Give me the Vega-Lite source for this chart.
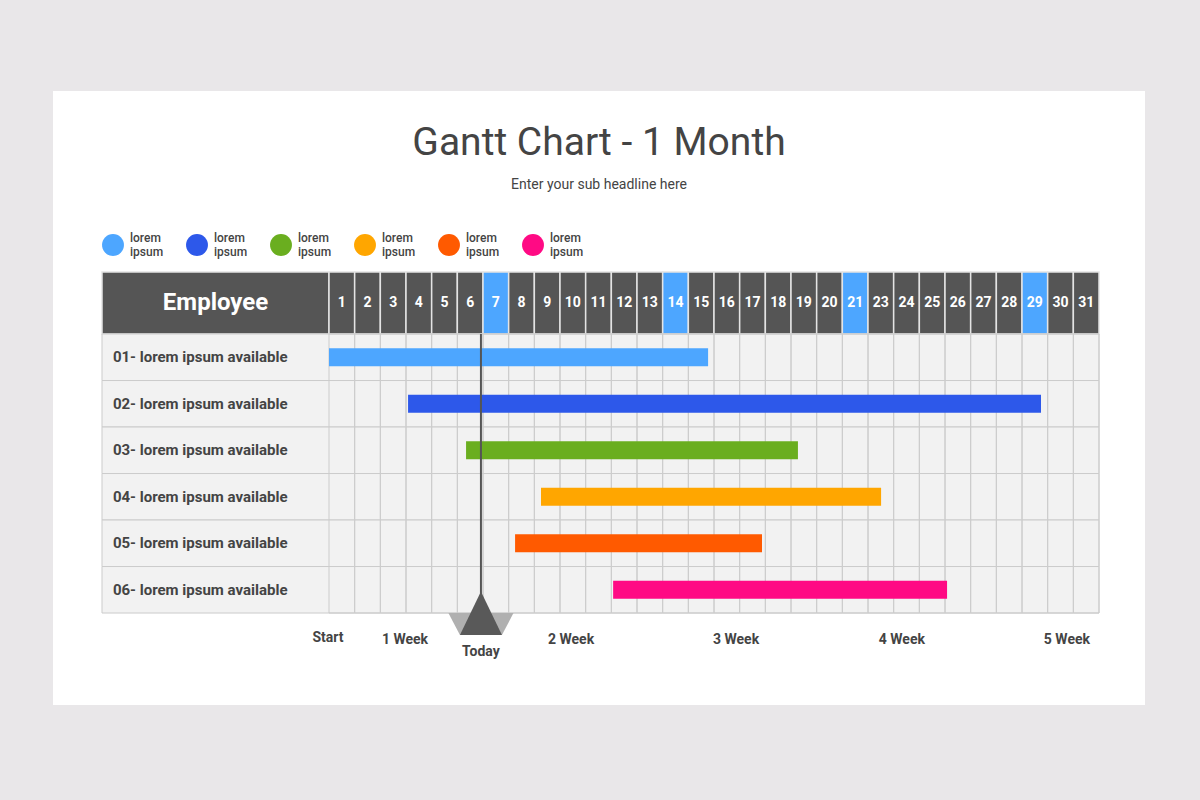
{
  "$schema": "https://vega.github.io/schema/vega-lite/v6.json",
  "width": 1092,
  "height": 614,
  "autosize": {"type": "none"},
  "padding": {"left": 53, "top": 91, "right": 55, "bottom": 95},
  "background": "#e9e7e9",
  "config": {
    "view": {"stroke": null, "fill": "#ffffff"},
    "font": "Roboto",
    "text": {"font": "Roboto"},
    "scale": {"continuousPadding": 0}
  },
  "title": {
    "text": "Gantt Chart - 1 Month",
    "subtitle": "Enter your sub headline here",
    "fontSize": 39,
    "fontWeight": "normal",
    "color": "#444444",
    "subtitleFontSize": 14,
    "subtitleColor": "#444444",
    "subtitlePadding": 15,
    "anchor": "middle",
    "frame": "group",
    "offset": -101
  },
  "datasets": {
    "days": [
      {"slot": 1, "label": "1", "hl": false},
      {"slot": 2, "label": "2", "hl": false},
      {"slot": 3, "label": "3", "hl": false},
      {"slot": 4, "label": "4", "hl": false},
      {"slot": 5, "label": "5", "hl": false},
      {"slot": 6, "label": "6", "hl": false},
      {"slot": 7, "label": "7", "hl": true},
      {"slot": 8, "label": "8", "hl": false},
      {"slot": 9, "label": "9", "hl": false},
      {"slot": 10, "label": "10", "hl": false},
      {"slot": 11, "label": "11", "hl": false},
      {"slot": 12, "label": "12", "hl": false},
      {"slot": 13, "label": "13", "hl": false},
      {"slot": 14, "label": "14", "hl": true},
      {"slot": 15, "label": "15", "hl": false},
      {"slot": 16, "label": "16", "hl": false},
      {"slot": 17, "label": "17", "hl": false},
      {"slot": 18, "label": "18", "hl": false},
      {"slot": 19, "label": "19", "hl": false},
      {"slot": 20, "label": "20", "hl": false},
      {"slot": 21, "label": "21", "hl": true},
      {"slot": 22, "label": "23", "hl": false},
      {"slot": 23, "label": "24", "hl": false},
      {"slot": 24, "label": "25", "hl": false},
      {"slot": 25, "label": "26", "hl": false},
      {"slot": 26, "label": "27", "hl": false},
      {"slot": 27, "label": "28", "hl": false},
      {"slot": 28, "label": "29", "hl": true},
      {"slot": 29, "label": "30", "hl": false},
      {"slot": 30, "label": "31", "hl": false}
    ],
    "tasks": [
      {"row": 1, "task": "01- lorem ipsum available", "start": 0.5, "end": 15.27},
      {"row": 2, "task": "02- lorem ipsum available", "start": 3.58, "end": 28.24},
      {"row": 3, "task": "03- lorem ipsum available", "start": 5.84, "end": 18.77},
      {"row": 4, "task": "04- lorem ipsum available", "start": 8.76, "end": 22.01},
      {"row": 5, "task": "05- lorem ipsum available", "start": 7.75, "end": 17.37},
      {"row": 6, "task": "06- lorem ipsum available", "start": 11.57, "end": 24.58}
    ],
    "weeks": [
      {"label": "Start", "pos": 0.46, "lift": 7.035},
      {"label": "1 Week", "pos": 3.46, "lift": 7.075},
      {"label": "2 Week", "pos": 9.93, "lift": 7.075},
      {"label": "3 Week", "pos": 16.36, "lift": 7.075},
      {"label": "4 Week", "pos": 22.82, "lift": 7.075},
      {"label": "5 Week", "pos": 29.25, "lift": 7.075}
    ],
    "today": [{"label": "Today", "pos": 6.42}],
    "header": [{"label": "Employee"}]
  },
  "layer": [
    {
      "data": {"name": "header"},
      "mark": {"type": "rect", "fill": "#555555", "stroke": "#e4e4e4", "strokeWidth": 1.5},
      "encoding": {
        "x": {"datum": -8.344, "type": "quantitative", "scale": {"domain": [-10.253, 32.292], "nice": false, "zero": false, "padding": 0}, "axis": null},
        "x2": {"datum": 0.5},
        "y": {"datum": -0.833, "type": "quantitative", "scale": {"domain": [-4.726, 8.478], "nice": false, "zero": false, "reverse": true, "padding": 0}, "axis": null},
        "y2": {"datum": 0.5}
      }
    },
    {
      "data": {"name": "header"},
      "mark": {"type": "text", "color": "#ffffff", "fontSize": 24, "fontWeight": "bold", "align": "center", "baseline": "middle"},
      "encoding": {
        "x": {"datum": -3.92, "type": "quantitative", "scale": {"domain": [-10.253, 32.292], "nice": false, "zero": false, "padding": 0}, "axis": null},
        "y": {"datum": -0.1667, "type": "quantitative", "scale": {"domain": [-4.726, 8.478], "nice": false, "zero": false, "reverse": true, "padding": 0}, "axis": null},
        "text": {"field": "label"}
      }
    },
    {
      "data": {"name": "days"},
      "mark": {"type": "bar", "orient": "vertical", "size": 25.667, "stroke": "#e4e4e4", "strokeWidth": 1.5},
      "encoding": {
        "x": {"field": "slot", "type": "quantitative", "scale": {"domain": [-10.253, 32.292], "nice": false, "zero": false, "padding": 0}, "axis": null},
        "y": {"datum": -0.833, "type": "quantitative", "scale": {"domain": [-4.726, 8.478], "nice": false, "zero": false, "reverse": true, "padding": 0}, "axis": null},
        "y2": {"datum": 0.5},
        "fill": {"condition": {"test": "datum.hl", "value": "#4da6ff"}, "value": "#555555"}
      }
    },
    {
      "data": {"name": "days"},
      "mark": {"type": "text", "color": "#ffffff", "fontSize": 14, "fontWeight": "bold", "align": "center", "baseline": "middle"},
      "encoding": {
        "x": {"field": "slot", "type": "quantitative", "scale": {"domain": [-10.253, 32.292], "nice": false, "zero": false, "padding": 0}, "axis": null},
        "y": {"datum": -0.1667, "type": "quantitative", "scale": {"domain": [-4.726, 8.478], "nice": false, "zero": false, "reverse": true, "padding": 0}, "axis": null},
        "text": {"field": "label"}
      }
    },
    {
      "data": {"name": "tasks"},
      "mark": {"type": "bar", "orient": "horizontal", "size": 46.5, "fill": "#f2f2f2", "stroke": "#cccccc", "strokeWidth": 1},
      "encoding": {
        "x": {"datum": -8.344, "type": "quantitative", "scale": {"domain": [-10.253, 32.292], "nice": false, "zero": false, "padding": 0}, "axis": null},
        "x2": {"datum": 30.5},
        "y": {"field": "row", "type": "quantitative", "scale": {"domain": [-4.726, 8.478], "nice": false, "zero": false, "reverse": true, "padding": 0}, "axis": null}
      }
    },
    {
      "data": {"name": "days"},
      "mark": {"type": "bar", "orient": "vertical", "size": 25.667, "fill": "transparent", "stroke": "#cccccc", "strokeWidth": 1},
      "encoding": {
        "x": {"field": "slot", "type": "quantitative", "scale": {"domain": [-10.253, 32.292], "nice": false, "zero": false, "padding": 0}, "axis": null},
        "y": {"datum": 0.5, "type": "quantitative", "scale": {"domain": [-4.726, 8.478], "nice": false, "zero": false, "reverse": true, "padding": 0}, "axis": null},
        "y2": {"datum": 6.5}
      }
    },
    {
      "data": {"name": "tasks"},
      "mark": {"type": "bar", "orient": "horizontal", "size": 18},
      "encoding": {
        "x": {"field": "start", "type": "quantitative", "scale": {"domain": [-10.253, 32.292], "nice": false, "zero": false, "padding": 0}, "axis": null},
        "x2": {"field": "end"},
        "y": {"field": "row", "type": "quantitative", "scale": {"domain": [-4.726, 8.478], "nice": false, "zero": false, "reverse": true, "padding": 0}, "axis": null},
        "color": {
          "field": "task",
          "type": "nominal",
          "scale": {
            "domain": ["01- lorem ipsum available", "02- lorem ipsum available", "03- lorem ipsum available", "04- lorem ipsum available", "05- lorem ipsum available", "06- lorem ipsum available"],
            "range": ["#4da6ff", "#2d58ea", "#6aae1f", "#ffa600", "#ff5a00", "#ff0a84"]
          },
          "legend": {
            "orient": "none",
            "legendX": 49,
            "legendY": 143,
            "direction": "horizontal",
            "columns": 6,
            "title": null,
            "symbolType": "circle",
            "symbolSize": 480,
            "symbolStrokeWidth": 0,
            "symbolOpacity": 1,
            "labelExpr": "['lorem', 'ipsum']",
            "labelFontSize": 12,
            "labelFontWeight": 500,
            "labelColor": "#444444",
            "labelOffset": 6,
            "labelLineHeight": 16,
            "labelBaseline": "bottom",
            "columnPadding": 22,
            "labelFont": "Roboto"
          }
        }
      }
    },
    {
      "data": {"name": "tasks"},
      "mark": {"type": "text", "color": "#444444", "fontSize": 15, "fontWeight": "bold", "align": "left", "baseline": "middle"},
      "encoding": {
        "x": {"datum": -7.92, "type": "quantitative", "scale": {"domain": [-10.253, 32.292], "nice": false, "zero": false, "padding": 0}, "axis": null},
        "y": {"field": "row", "type": "quantitative", "scale": {"domain": [-4.726, 8.478], "nice": false, "zero": false, "reverse": true, "padding": 0}, "axis": null},
        "text": {"field": "task"}
      }
    },
    {
      "data": {"name": "today"},
      "mark": {"type": "rule", "color": "#555555", "strokeWidth": 2},
      "encoding": {
        "x": {"field": "pos", "type": "quantitative", "scale": {"domain": [-10.253, 32.292], "nice": false, "zero": false, "padding": 0}, "axis": null},
        "y": {"datum": 0.5, "type": "quantitative", "scale": {"domain": [-4.726, 8.478], "nice": false, "zero": false, "reverse": true, "padding": 0}, "axis": null},
        "y2": {"datum": 6.5}
      }
    },
    {
      "data": {"name": "today"},
      "mark": {"type": "point", "shape": "M-1.55,0L1.55,0L1,1.05L-1,1.05Z", "size": 1764, "filled": true, "fill": "#b0b0b0", "opacity": 1, "strokeWidth": 0},
      "encoding": {
        "x": {"field": "pos", "type": "quantitative", "scale": {"domain": [-10.253, 32.292], "nice": false, "zero": false, "padding": 0}, "axis": null},
        "y": {"datum": 6.5, "type": "quantitative", "scale": {"domain": [-4.726, 8.478], "nice": false, "zero": false, "reverse": true, "padding": 0}, "axis": null}
      }
    },
    {
      "data": {"name": "today"},
      "mark": {"type": "point", "shape": "M0,-1.02L1,1.05L-1,1.05Z", "size": 1764, "filled": true, "fill": "#595959", "opacity": 1, "strokeWidth": 0},
      "encoding": {
        "x": {"field": "pos", "type": "quantitative", "scale": {"domain": [-10.253, 32.292], "nice": false, "zero": false, "padding": 0}, "axis": null},
        "y": {"datum": 6.5, "type": "quantitative", "scale": {"domain": [-4.726, 8.478], "nice": false, "zero": false, "reverse": true, "padding": 0}, "axis": null}
      }
    },
    {
      "data": {"name": "today"},
      "mark": {"type": "text", "color": "#444444", "fontSize": 14, "fontWeight": "bold", "align": "center", "baseline": "middle"},
      "encoding": {
        "x": {"field": "pos", "type": "quantitative", "scale": {"domain": [-10.253, 32.292], "nice": false, "zero": false, "padding": 0}, "axis": null},
        "y": {"datum": 7.34, "type": "quantitative", "scale": {"domain": [-4.726, 8.478], "nice": false, "zero": false, "reverse": true, "padding": 0}, "axis": null},
        "text": {"field": "label"}
      }
    },
    {
      "data": {"name": "weeks"},
      "mark": {"type": "text", "color": "#444444", "fontSize": 14, "fontWeight": "bold", "align": "center", "baseline": "middle"},
      "encoding": {
        "x": {"field": "pos", "type": "quantitative", "scale": {"domain": [-10.253, 32.292], "nice": false, "zero": false, "padding": 0}, "axis": null},
        "y": {"field": "lift", "type": "quantitative", "scale": {"domain": [-4.726, 8.478], "nice": false, "zero": false, "reverse": true, "padding": 0}, "axis": null},
        "text": {"field": "label"}
      }
    }
  ]
}
